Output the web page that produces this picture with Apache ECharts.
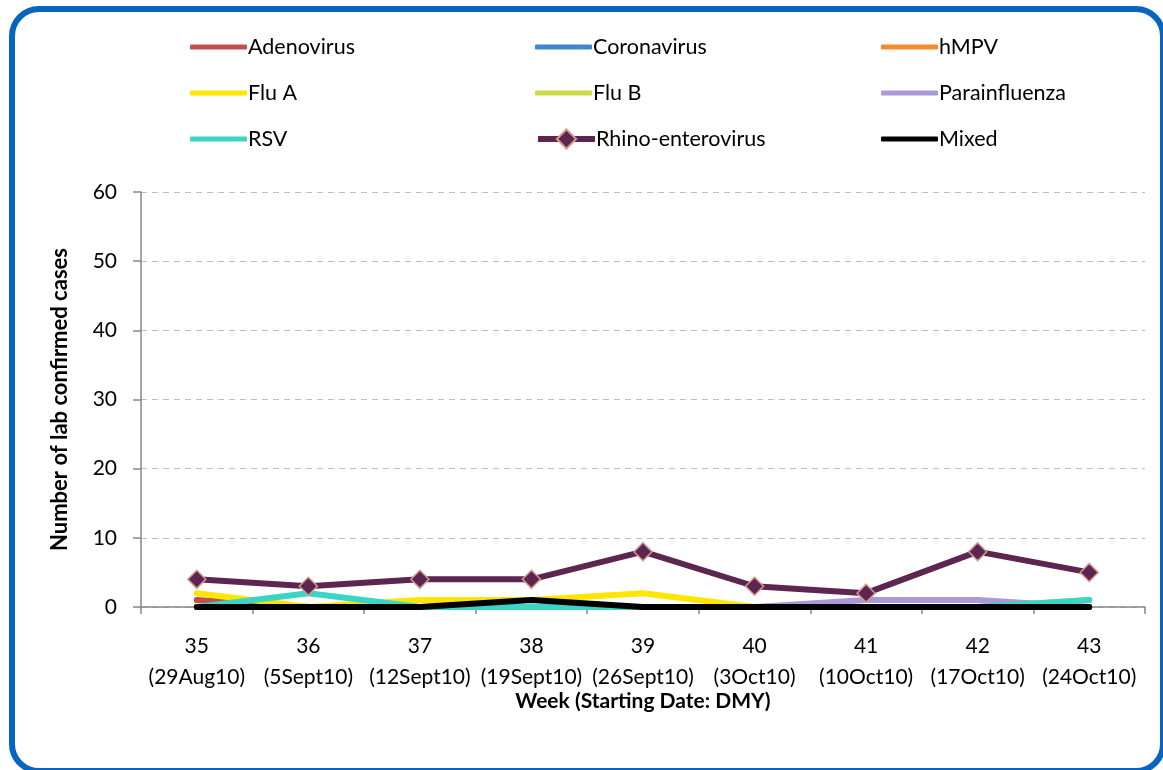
<!DOCTYPE html>
<html>
<head>
<meta charset="utf-8">
<script src="https://cdn.jsdelivr.net/npm/echarts@6/dist/echarts.min.js"></script>
<style>
html,body{margin:0;padding:0;background:#fff;overflow:hidden;}
#frame{position:absolute;left:9px;top:6px;width:1145px;height:756px;border:6px solid #0565C0;border-radius:30px;}
#chart{position:absolute;left:0;top:0;width:1163px;height:770px;}
</style>
</head>
<body>
<div id="frame"></div>
<div id="chart"></div>
<script>
const weeks = ['35','36','37','38','39','40','41','42','43'];
const dates = ['(29Aug10)','(5Sept10)','(12Sept10)','(19Sept10)','(26Sept10)','(3Oct10)','(10Oct10)','(17Oct10)','(24Oct10)'];

const adenovirus   = [1,0,0,0,0,0,0,0,0];
const coronavirus  = [0,0,0,0,0,0,0,0,0];
const hmpv         = [0,0,0,0,0,0,0,0,0];
const fluA         = [2,0,1,1,2,0,0,0,0];
const fluB         = [0,0,0,0,0,0,0,0,1];
const parainfluenza= [0,0,0,0,0,0,1,1,0];
const rsv          = [0,2,0,0,0,0,0,0,1];
const rhino        = [4,3,4,4,8,3,2,8,5];
const mixed        = [0,0,0,1,0,0,0,0,0];

const yTicks = [0,10,20,30,40,50,60];

const FONT = 'Lato';
const categories = weeks.map((w,i)=> w + '\n' + dates[i]);

function lineSeries(name, data, color){
  return {name, type:'line', data, symbol:'none', smooth:false,
    lineStyle:{color, width:6, cap:'round', join:'round'}, itemStyle:{color}, z:2};
}

const series = [
  lineSeries('Adenovirus', adenovirus, '#C0504D'),
  lineSeries('Coronavirus', coronavirus, '#3E86CF'),
  lineSeries('hMPV', hmpv, '#F58A2E'),
  lineSeries('Flu A', fluA, '#FFE500'),
  lineSeries('Flu B', fluB, '#CCD94A'),
  lineSeries('Parainfluenza', parainfluenza, '#AA98D8'),
  lineSeries('RSV', rsv, '#3AD5C5'),
  {name:'Rhino-enterovirus', type:'line', data:rhino, symbol:'diamond', symbolSize:18,
    lineStyle:{color:'#5C2651', width:6, join:'round'},
    itemStyle:{color:'#5C2651', borderColor:'#D49A8E', borderWidth:1.5}, z:3},
  lineSeries('Mixed', mixed, '#000000'),
];

const colLeft = [190, 535, 881];
const rowCenter = [47, 93, 139];
const legendNames = [
  ['Adenovirus','Coronavirus','hMPV'],
  ['Flu A','Flu B','Parainfluenza'],
  ['RSV','Rhino-enterovirus','Mixed']
];
const legends = [];
legendNames.forEach((row, r)=>{
  row.forEach((name, c)=>{
    const isRhino = name === 'Rhino-enterovirus';
    const lg = {left:colLeft[c], top:rowCenter[r]-13, orient:'horizontal', padding:0,
      itemWidth:57, itemHeight: isRhino ? 24 : 5, data:[isRhino ? name : {name, icon:'roundRect'}],
      selectedMode:false,
      textStyle:{fontFamily:FONT, fontSize:21.5, color:'#000', lineHeight:26, padding:[0,0,0,-4]}};
    if (isRhino) lg.lineStyle = {width:6};
    legends.push(lg);
  });
});

const chart = echarts.init(document.getElementById('chart'), null, {renderer:'canvas'});
chart.setOption({
  animation:false,
  backgroundColor:'transparent',
  textStyle:{fontFamily:FONT},
  legend:legends,
  grid:{left:141, right:18, top:192, bottom:163, containLabel:false},
  xAxis:{type:'category', data:categories, boundaryGap:true,
    name:'Week (Starting Date: DMY)', nameLocation:'middle', nameGap:84, nameMoveOverlap:false,
    nameTextStyle:{fontFamily:FONT, fontSize:21, fontWeight:'bold', color:'#000'},
    axisLine:{lineStyle:{color:'#868686', width:1.5}},
    axisTick:{show:true, length:7, lineStyle:{color:'#868686', width:1.5}},
    axisLabel:{interval:0, margin:24, fontFamily:FONT, fontSize:21, color:'#000', lineHeight:31},
    splitLine:{show:false}},
  yAxis:{type:'value', min:0, max:60, interval:10,
    name:'Number of lab confirmed cases', nameLocation:'middle', nameGap:70, nameRotate:90,
    nameTextStyle:{fontFamily:FONT, fontSize:22, fontWeight:'bold', color:'#000'},
    axisLine:{show:true, lineStyle:{color:'#868686', width:1.5}},
    axisTick:{show:true, length:8, lineStyle:{color:'#868686', width:1.5}},
    axisLabel:{margin:24, fontFamily:FONT, fontSize:21, color:'#000',
      formatter:(v)=> yTicks.includes(v) ? String(v) : ''},
    splitLine:{show:true, lineStyle:{color:'#BEBEBE', type:[6,5], width:1.2}}},
  series
});
</script>
</body>
</html>
